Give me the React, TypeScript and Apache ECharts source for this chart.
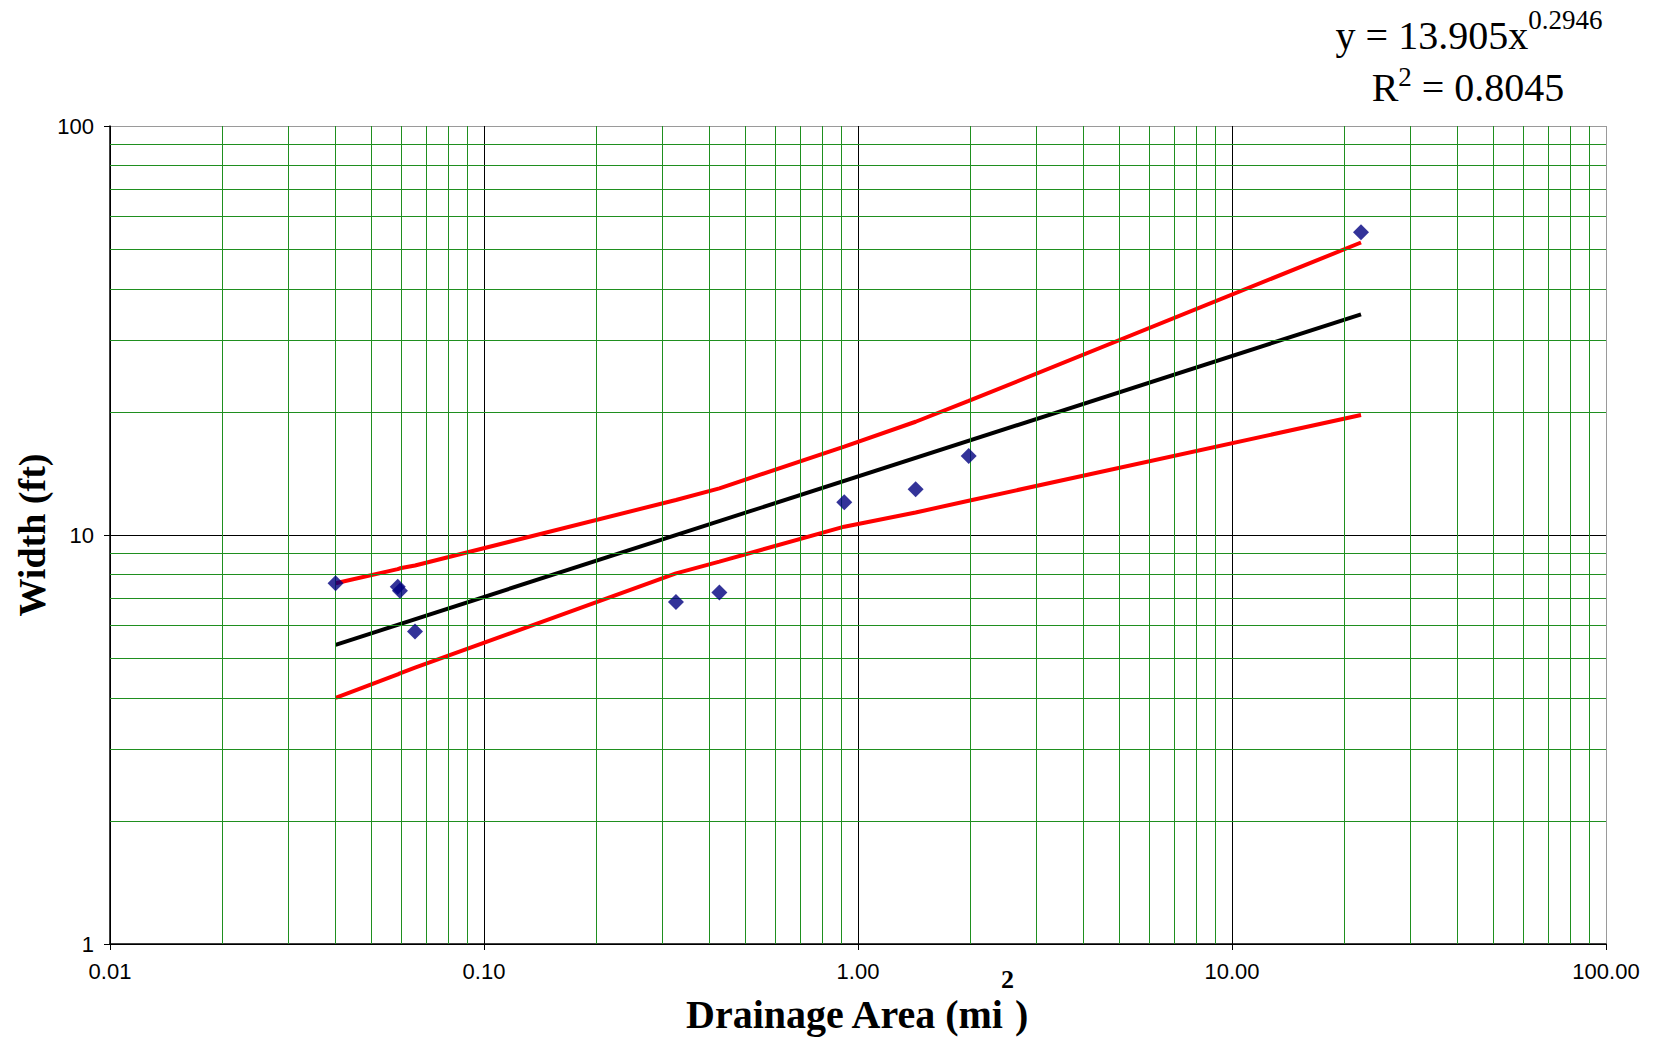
import React, { useEffect, useRef } from "react";
import * as echarts from "echarts";

// Observed data (drainage area in mi², width in ft)
const areaValues = [0.0401, 0.0588, 0.0596, 0.0654, 0.326, 0.426, 0.919, 1.426, 1.977, 22.13];
const widthValues = [7.62, 7.47, 7.31, 5.81, 6.86, 7.23, 12.02, 12.93, 15.61, 54.96];

// Power trend line (y = 13.905x^0.2946) endpoints
const trendArea = [0.0401, 22.13];
const trendWidth = [5.39, 34.63];

// Confidence band curves (red)
const bandArea = [0.0401, 0.0588, 0.0596, 0.0654, 0.326, 0.426, 0.919, 1.426, 1.977, 22.13];
const upperWidth = [7.62, 8.25, 8.29, 8.42, 12.18, 13.0, 16.45, 18.92, 21.27, 51.9];
const lowerWidth = [4.0, 4.56, 4.59, 4.74, 8.06, 8.61, 10.48, 11.35, 12.13, 19.65];

// Axes
const xDecades = [0.01, 0.1, 1, 10];
const yDecades = [1, 10];
const gridMultipliers = [2, 3, 4, 5, 6, 7, 8, 9];
const xMin = 0.01;
const xMax = 100;
const yMin = 1;
const yMax = 100;

const equationLine1 = "y = 13.905x";
const equationExp = "0.2946";
const r2Value = "0.8045";

const zip = (xs: number[], ys: number[]) => xs.map((x, i) => [x, ys[i]]);

export default function App() {
  const ref = useRef<HTMLDivElement>(null);

  useEffect(() => {
    if (!ref.current) return;
    const chart = echarts.init(ref.current, undefined, { renderer: "svg" });

    const xMinor: number[] = [];
    xDecades.forEach((d) => gridMultipliers.forEach((m) => xMinor.push(d * m)));
    const yMinor: number[] = [];
    yDecades.forEach((d) => gridMultipliers.forEach((m) => yMinor.push(d * m)));

    const serif = "'Liberation Serif', 'Times New Roman', serif";
    const sans = "'Liberation Sans', Arial, sans-serif";

    chart.setOption({
      animation: false,
      backgroundColor: "#ffffff",
      grid: { left: 110, top: 126, width: 1496, height: 818, containLabel: false },
      xAxis: {
        type: "log",
        logBase: 10,
        min: xMin,
        max: xMax,
        axisLine: { show: true, onZero: false, lineStyle: { color: "#000", width: 1.5 } },
        axisTick: { show: true, length: 6, inside: false, lineStyle: { color: "#000", width: 1 } },
        axisLabel: {
          fontSize: 22,
          fontFamily: sans,
          color: "#000",
          margin: 16,
          formatter: (v: number) => v.toFixed(2),
        },
        splitLine: {
          show: true,
          lineStyle: { color: ["#000", "#000", "#000", "#000", "#9a9a9a"], width: 1 },
        },
      },
      yAxis: {
        type: "log",
        logBase: 10,
        min: yMin,
        max: yMax,
        axisLine: { show: true, onZero: false, lineStyle: { color: "#000", width: 1.5 } },
        axisTick: { show: true, length: 6, inside: false, lineStyle: { color: "#000", width: 1 } },
        axisLabel: {
          fontSize: 22,
          fontFamily: sans,
          color: "#000",
          margin: 16,
          formatter: (v: number) => String(Math.round(v)),
        },
        splitLine: {
          show: true,
          lineStyle: { color: ["#000", "#000", "#9a9a9a"], width: 1 },
        },
      },
      series: [
        {
          type: "line",
          data: [],
          silent: true,
          z: 1,
          markLine: {
            silent: true,
            animation: false,
            symbol: ["none", "none"],
            label: { show: false },
            emphasis: { disabled: true },
            lineStyle: { color: "#1f8f1f", width: 1, type: "solid" },
            data: [
              ...xMinor.map((v) => ({ xAxis: v })),
              ...yMinor.map((v) => ({ yAxis: v })),
            ],
          },
        },
        {
          name: "Trend",
          type: "line",
          data: zip(trendArea, trendWidth),
          showSymbol: false,
          symbol: "none",
          lineStyle: { color: "#000", width: 4 },
          z: 3,
          silent: true,
        },
        {
          name: "Upper",
          type: "line",
          data: zip(bandArea, upperWidth),
          showSymbol: false,
          symbol: "none",
          lineStyle: { color: "#ff0000", width: 4 },
          z: 4,
          silent: true,
        },
        {
          name: "Lower",
          type: "line",
          data: zip(bandArea, lowerWidth),
          showSymbol: false,
          symbol: "none",
          lineStyle: { color: "#ff0000", width: 4 },
          z: 4,
          silent: true,
        },
        {
          name: "Observed",
          type: "scatter",
          data: zip(areaValues, widthValues),
          symbol: "diamond",
          symbolSize: 16,
          itemStyle: { color: "#000080" },
          z: 5,
        },
      ],
      graphic: [
        {
          type: "text",
          x: 1469,
          y: 35,
          style: {
            text: `{n|${equationLine1}}{s|${equationExp}}`,
            align: "center",
            verticalAlign: "middle",
            rich: {
              n: { fontFamily: serif, fontSize: 40, lineHeight: 58, fill: "#000" },
              s: { fontFamily: serif, fontSize: 27, lineHeight: 28, verticalAlign: "top", fill: "#000" },
            },
          },
        },
        {
          type: "text",
          x: 1468,
          y: 87,
          style: {
            text: `{n|R}{s|2}{n| = ${r2Value}}`,
            align: "center",
            verticalAlign: "middle",
            rich: {
              n: { fontFamily: serif, fontSize: 40, lineHeight: 48, fill: "#000" },
              s: { fontFamily: serif, fontSize: 27, lineHeight: 28, verticalAlign: "top", fill: "#000" },
            },
          },
        },
        {
          type: "text",
          x: 686,
          y: 1014,
          style: {
            text: "Drainage Area (mi",
            align: "left",
            verticalAlign: "middle",
            font: `bold 40px ${serif}`,
            lineHeight: 40,
            fill: "#000",
          },
        },
        {
          type: "text",
          x: 1001,
          y: 979,
          style: {
            text: "2",
            align: "left",
            verticalAlign: "middle",
            font: `bold 26px ${serif}`,
            lineHeight: 26,
            fill: "#000",
          },
        },
        {
          type: "text",
          x: 1015,
          y: 1014,
          style: {
            text: ")",
            align: "left",
            verticalAlign: "middle",
            font: `bold 40px ${serif}`,
            lineHeight: 40,
            fill: "#000",
          },
        },
        {
          type: "text",
          x: 32,
          y: 535,
          rotation: Math.PI / 2,
          style: {
            text: "Width (ft)",
            align: "center",
            verticalAlign: "middle",
            font: `bold 38px ${serif}`,
            fill: "#000",
          },
        },
      ],
    });

    return () => chart.dispose();
  }, []);

  return (
    <div
      ref={ref}
      style={{ position: "fixed", left: 0, top: 0, width: 1655, height: 1039, background: "#fff" }}
    />
  );
}
